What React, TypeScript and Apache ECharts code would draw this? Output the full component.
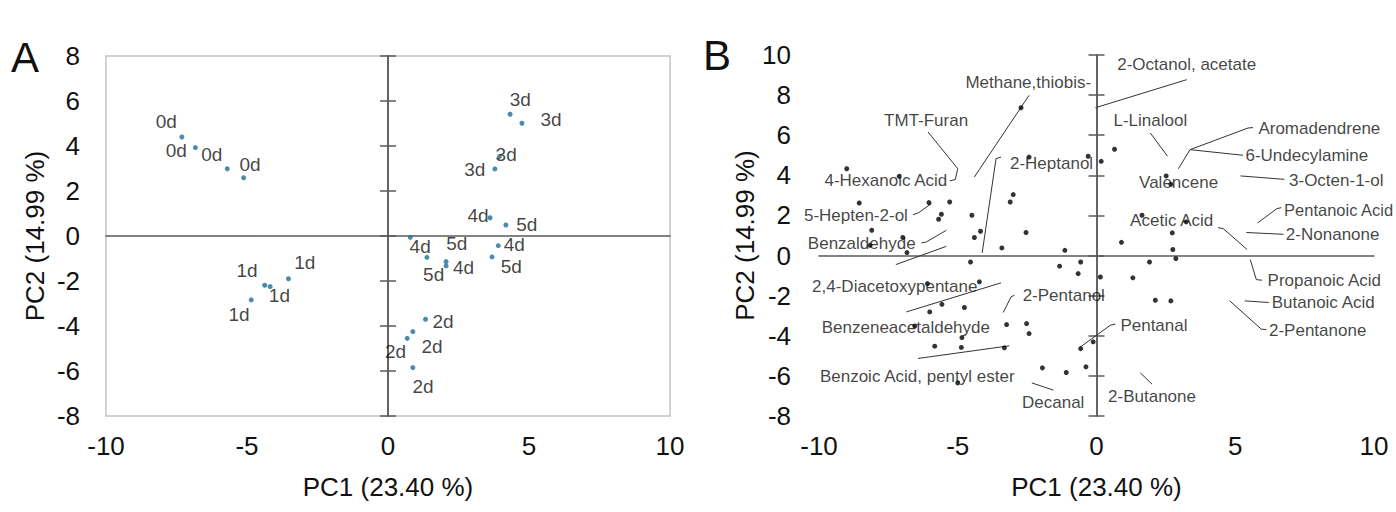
import React, { useEffect, useRef } from "react";
import * as echarts from "echarts";

const FONT = "'Liberation Sans', Arial, Helvetica, sans-serif";

// ---------- Panel A: sample scores (PC1, PC2) ----------
const dayNames = ["0d", "1d", "2d", "3d", "4d", "5d"];
const scores0d = [[-7.31, 4.4], [-6.83, 3.93], [-5.7, 2.99], [-5.12, 2.59]];
const scores1d = [[-3.53, -1.9], [-4.37, -2.19], [-4.18, -2.25], [-4.85, -2.84]];
const scores2d = [[1.33, -3.7], [0.88, -4.25], [0.68, -4.55], [0.88, -5.85]];
const scores3d = [[4.33, 5.41], [4.75, 5.01], [3.95, 3.53], [3.79, 2.98]];
const scores4d = [[0.79, -0.06], [3.62, 0.81], [3.91, -0.43], [2.06, -1.33]];
const scores5d = [[1.38, -0.95], [2.06, -1.14], [4.18, 0.49], [3.69, -0.93]];
const scoresByDay = [scores0d, scores1d, scores2d, scores3d, scores4d, scores5d];

// label anchors (data space) for the sample tags
const tag0d = [[-7.86, 5.07], [-7.51, 3.81], [-6.25, 3.63], [-4.89, 3.19]];
const tag1d = [[-2.95, -1.16], [-5.0, -1.53], [-3.85, -2.64], [-5.28, -3.48]];
const tag2d = [[1.95, -3.8], [1.56, -4.9], [0.27, -5.15], [1.24, -6.67]];
const tag3d = [[4.69, 6.07], [5.78, 5.16], [4.19, 3.63], [3.08, 2.94]];
const tag4d = [[1.14, -0.47], [3.19, 0.89], [4.48, -0.36], [2.68, -1.41]];
const tag5d = [[1.62, -1.73], [2.44, -0.33], [4.92, 0.53], [4.37, -1.36]];
const tagsByDay = [tag0d, tag1d, tag2d, tag3d, tag4d, tag5d];

// ---------- Panel B: loadings ----------
const loadings = [
  [-9.0, 4.33], [-7.11, 3.95], [-8.55, 2.62], [-6.04, 2.64], [-5.29, 2.67],
  [-5.59, 2.06], [-5.69, 1.81], [-4.49, 2.01], [-8.1, 1.26], [-6.98, 0.9],
  [-6.83, 0.15], [-8.16, 0.51], [-4.18, 1.21], [-4.4, 0.9], [-3.41, 0.38],
  [-2.54, 1.15], [-3.11, 2.67], [-3.0, 3.04], [-2.72, 7.37], [-2.43, 4.91],
  [-1.14, 0.26], [-0.3, 4.95], [0.17, 4.7], [0.65, 5.3], [-4.54, -0.32],
  [-1.33, -0.53], [-0.57, -0.32], [-0.66, -0.9], [-6.09, -1.4], [-4.22, -1.31],
  [-6.01, -2.81], [-5.57, -2.43], [-4.76, -2.59], [-6.55, -3.51], [-3.24, -3.44],
  [-2.52, -3.39], [-2.43, -3.89], [-4.85, -4.09], [-5.83, -4.52], [-4.87, -4.58],
  [-3.32, -4.6], [-5.0, -6.35], [-1.95, -5.6], [-1.09, -5.83], [-0.38, -5.55],
  [-0.57, -4.64], [-0.12, -4.3], [0.9, 0.66], [2.73, 1.13], [2.75, 0.3],
  [2.86, -0.15], [1.91, -0.32], [0.14, -1.07], [1.31, -1.11], [2.12, -2.23],
  [2.68, -2.26], [1.64, 2.01], [3.23, 1.68], [2.51, 3.97], [2.68, 3.55],
];

const compoundNames = [
  "Methane,thiobis-", "TMT-Furan", "4-Hexanoic Acid", "2-Heptanol", "5-Hepten-2-ol",
  "Benzaldehyde", "2,4-Diacetoxypentane", "2-Pentanol", "Benzeneacetaldehyde",
  "Benzoic Acid, pentyl ester", "Decanal", "2-Butanone", "Pentanal", "2-Octanol, acetate",
  "L-Linalool", "Aromadendrene", "6-Undecylamine", "Valencene", "3-Octen-1-ol",
  "Pentanoic Acid", "2-Nonanone", "Acetic Acid", "Propanoic Acid", "Butanoic Acid", "2-Pentanone",
];
const compoundTagPos = [
  [-2.46, 8.65], [-6.14, 6.74], [-7.59, 3.75], [-1.62, 4.61], [-8.67, 2.01],
  [-8.46, 0.6], [-7.27, -1.53], [-1.18, -1.98], [-6.87, -3.61],
  [-6.46, -6.05], [-1.56, -7.34], [2.0, -7.05], [2.07, -3.47], [3.25, 9.52],
  [1.94, 6.71], [8.03, 6.36], [7.58, 5.0], [2.96, 3.64], [8.64, 3.75],
  [6.74, 2.26], [8.51, 1.06], [2.71, 1.76], [8.21, -1.23], [8.17, -2.36], [7.97, -3.72],
];
const leftAnchoredTags = ["Pentanoic Acid"];

const leaderLines = [
  [[-2.43, 7.99], [-4.4, 3.92]],
  [[-6.07, 6.16], [-5.0, 4.33], [-5.09, 3.79], [-5.29, 3.72]],
  [[-3.44, 4.91], [-3.62, 4.83], [-4.12, 0.13]],
  [[-6.61, 2.04], [-6.43, 2.12], [-5.95, 2.59]],
  [[-6.31, 0.63], [-6.13, 0.68], [-5.41, 1.26]],
  [[-7.23, -0.45], [-5.41, 0.46]],
  [[-6.85, -2.81], [-3.44, -1.36]],
  [[-2.96, -1.98], [-3.08, -2.06], [-3.36, -2.84]],
  [[-6.43, -5.13], [-3.14, -4.5]],
  [[-2.33, -6.35], [-1.55, -6.71]],
  [[1.58, -5.85], [2.0, -6.41]],
  [[0.68, -3.42], [0.5, -3.47], [-0.57, -4.55]],
  [[3.25, 8.77], [-0.04, 7.37]],
  [[1.94, 6.11], [2.56, 4.95]],
  [[5.64, 6.38], [5.46, 6.36], [3.37, 5.28], [2.95, 4.33]],
  [[5.28, 5.0], [3.37, 5.28]],
  [[5.19, 3.97], [6.77, 3.8]],
  [[5.8, 1.62], [6.5, 2.34], [6.66, 2.39]],
  [[5.4, 1.15], [6.74, 1.06]],
  [[4.38, 1.39], [4.56, 1.35], [5.43, 0.3]],
  [[5.54, -0.2], [5.76, -1.2], [5.97, -1.23]],
  [[5.34, -2.26], [6.21, -2.34]],
  [[4.8, -2.26], [5.94, -3.67], [6.12, -3.69]],
];

const xTitle = "PC1 (23.40 %)";
const yTitle = "PC2 (14.99 %)";

const AXIS_COLOR = "#5a5a5a";
const TEXT_COLOR = "#111111";
const DOT_A = "#1f6e99";

function labelAxisX(gridIndex: number) {
  return {
    type: "value", gridIndex, min: -10, max: 10, interval: 5, position: "bottom",
    axisLine: { show: false, onZero: false }, axisTick: { show: false }, splitLine: { show: false },
    axisLabel: { fontSize: 26, color: TEXT_COLOR, fontFamily: FONT, margin: 17 },
    name: xTitle, nameLocation: "middle", nameGap: 58,
    nameTextStyle: { fontSize: 26, color: TEXT_COLOR, fontFamily: FONT },
  };
}
function zeroAxisX(gridIndex: number, yIdx: number) {
  return {
    type: "value", gridIndex, min: -10, max: 10, interval: 5,
    axisLine: { show: true, onZero: true, onZeroAxisIndex: yIdx, lineStyle: { color: AXIS_COLOR, width: 1.5 } },
    axisTick: { show: false }, axisLabel: { show: false }, splitLine: { show: false },
  };
}
function labelAxisY(gridIndex: number, min: number, max: number, margin: number, gap: number) {
  return {
    type: "value", gridIndex, min, max, interval: 2, position: "left",
    axisLine: { show: false, onZero: false }, axisTick: { show: false }, splitLine: { show: false },
    axisLabel: { fontSize: 26, color: TEXT_COLOR, fontFamily: FONT, margin },
    name: yTitle, nameLocation: "middle", nameGap: gap, nameRotate: 90,
    nameTextStyle: { fontSize: 26, color: TEXT_COLOR, fontFamily: FONT },
  };
}
function zeroAxisY(gridIndex: number, min: number, max: number, side: string, xIdx: number) {
  return {
    type: "value", gridIndex, min, max, interval: 2, position: side,
    axisLine: { show: true, onZero: true, onZeroAxisIndex: xIdx, lineStyle: { color: AXIS_COLOR, width: 1.5 } },
    axisTick: { show: true, length: 8, lineStyle: { color: AXIS_COLOR, width: 1.5 } },
    axisLabel: { show: false }, splitLine: { show: false },
  };
}

function buildOption() {
  const series: any[] = [];
  scoresByDay.forEach((pts, i) => {
    series.push({
      type: "scatter", name: dayNames[i], xAxisIndex: 0, yAxisIndex: 0,
      data: pts, symbolSize: 5, itemStyle: { color: DOT_A }, silent: true,
    });
    series.push({
      type: "scatter", name: dayNames[i] + "-tag", xAxisIndex: 0, yAxisIndex: 0,
      data: tagsByDay[i].map((p) => ({ value: p, name: dayNames[i] })),
      symbolSize: 1, itemStyle: { color: "rgba(0,0,0,0)" }, silent: true, clip: false,
      label: { show: true, position: "inside", formatter: "{b}", fontSize: 19, color: TEXT_COLOR, fontFamily: FONT },
    });
  });
  series.push({
    type: "lines", coordinateSystem: "cartesian2d", xAxisIndex: 2, yAxisIndex: 3, polyline: true,
    data: leaderLines.map((c) => ({ coords: c })), silent: true,
    lineStyle: { color: "#333333", width: 1, opacity: 1 },
  });
  series.push({
    type: "scatter", name: "loadings", xAxisIndex: 2, yAxisIndex: 3,
    data: loadings, symbolSize: 5, itemStyle: { color: "#000" }, silent: true,
  });
  series.push({
    type: "scatter", name: "compounds", xAxisIndex: 2, yAxisIndex: 3, clip: false,
    data: compoundNames.map((n, i) => {
      const left = leftAnchoredTags.includes(n);
      return {
        value: compoundTagPos[i], name: n,
        label: left ? { position: "right", distance: 0, fontSize: 16.5 } : undefined,
      };
    }),
    symbolSize: 1, itemStyle: { color: "rgba(0,0,0,0)" }, silent: true,
    label: { show: true, position: "inside", formatter: "{b}", fontSize: 17, color: TEXT_COLOR, fontFamily: FONT },
  });

  return {
    animation: false,
    backgroundColor: "#ffffff",
    textStyle: { fontFamily: FONT },
    grid: [
      { left: 106, top: 56, width: 564, height: 360, show: true, borderColor: "#c4c4c4", borderWidth: 1.5, backgroundColor: "transparent" },
      { left: 819, top: 55, width: 555, height: 361, show: false },
    ],
    xAxis: [labelAxisX(0), zeroAxisX(0, 0), labelAxisX(1), zeroAxisX(1, 3)],
    yAxis: [
      labelAxisY(0, -8, 8, 26, 58),
      zeroAxisY(0, -8, 8, "left", 0),
      zeroAxisY(0, -8, 8, "right", 0),
      labelAxisY(1, -8, 10, 28, 54),
      zeroAxisY(1, -8, 10, "left", 2),
      zeroAxisY(1, -8, 10, "right", 2),
    ],
    graphic: [
      { type: "text", left: 11, top: 36, style: { text: "A", fontSize: 42, fill: "#111", fontFamily: FONT } },
      { type: "text", left: 703, top: 34, style: { text: "B", fontSize: 42, fill: "#111", fontFamily: FONT } },
    ],
    series,
  };
}

export default function App() {
  const ref = useRef<HTMLDivElement>(null);
  useEffect(() => {
    if (!ref.current) return;
    const chart = echarts.init(ref.current, undefined, { renderer: "svg" });
    chart.setOption(buildOption() as any);
    return () => chart.dispose();
  }, []);
  return (
    <div
      ref={ref}
      style={{ position: "absolute", left: 0, top: 0, width: 1396, height: 512, background: "#fff" }}
    />
  );
}
